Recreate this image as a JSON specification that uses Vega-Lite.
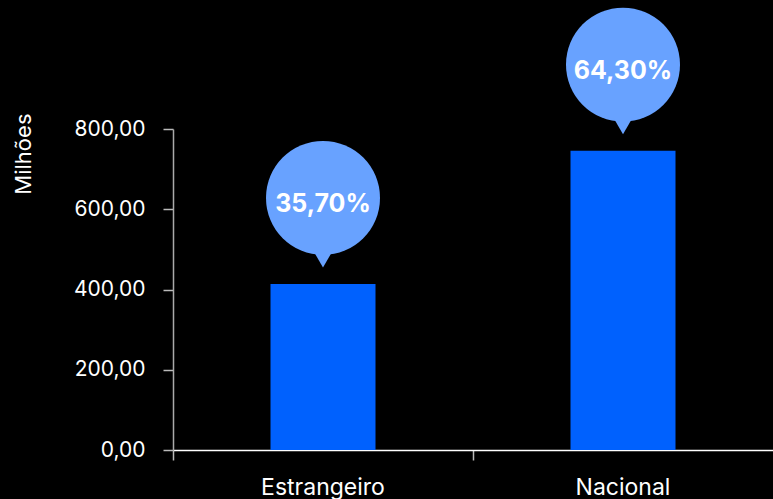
{
  "$schema": "https://vega.github.io/schema/vega-lite/v6.json",
  "width": 600,
  "height": 321,
  "autosize": {"type": "none"},
  "padding": {"left": 173, "top": 129, "right": 0, "bottom": 49},
  "background": "#000000",
  "config": {
    "view": {"stroke": null},
    "font": "Inter"
  },
  "data": {
    "values": [
      {"origem": "Estrangeiro", "valor": 414, "pct": "35,70%"},
      {"origem": "Nacional", "valor": 746, "pct": "64,30%"}
    ]
  },
  "encoding": {
    "x": {
      "field": "origem",
      "type": "nominal",
      "sort": null,
      "scale": {"paddingInner": 0, "paddingOuter": 0},
      "axis": {
        "title": null,
        "labelAngle": 0,
        "labelColor": "#ffffff",
        "labelFontSize": 23,
        "labelPadding": 16,
        "domainColor": "#ffffff",
        "domainWidth": 1.5,
        "tickColor": "#bbbbbb",
        "tickSize": 10,
        "tickWidth": 1.5,
        "bandPosition": 0,
        "grid": false
      }
    },
    "y": {
      "field": "valor",
      "type": "quantitative",
      "scale": {"domain": [0, 800], "nice": false},
      "axis": {
        "title": "Milhões",
        "titleColor": "#ffffff",
        "titleFontSize": 22,
        "titleFontWeight": "normal",
        "titleAngle": -90,
        "titleAlign": "right",
        "titleBaseline": "alphabetic",
        "titleX": -143,
        "titleY": -16,
        "values": [0, 200, 400, 600, 800],
        "labelExpr": "replace(format(datum.value, '.2f'), '.', ',')",
        "labelColor": "#ffffff",
        "labelFontSize": 21,
        "labelPadding": 18,
        "domainColor": "#aaaaaa",
        "domainWidth": 1.5,
        "tickColor": "#bbbbbb",
        "tickSize": 10,
        "tickWidth": 1.5,
        "grid": false
      }
    }
  },
  "layer": [
    {
      "mark": {"type": "bar", "color": "#0061FE", "width": {"band": 0.35}}
    },
    {
      "mark": {"type": "point", "shape": "circle", "filled": true, "opacity": 1, "color": "#68A2FF", "size": 12996, "yOffset": -86}
    },
    {
      "mark": {"type": "point", "shape": "triangle-down", "filled": true, "opacity": 1, "color": "#68A2FF", "size": 400, "yOffset": -25}
    },
    {
      "mark": {"type": "text", "color": "#ffffff", "fontSize": 25, "fontWeight": "bold", "baseline": "middle", "align": "center", "yOffset": -80},
      "encoding": {"text": {"field": "pct"}}
    }
  ]
}
